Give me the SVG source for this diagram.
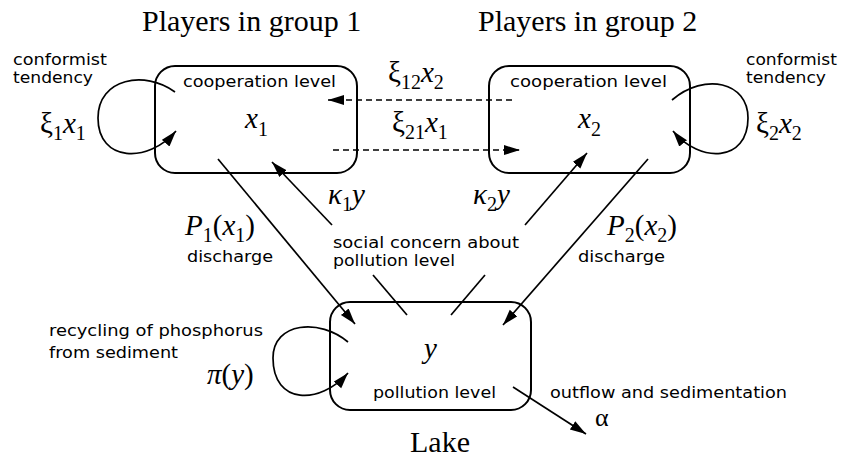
<svg xmlns="http://www.w3.org/2000/svg" width="841" height="460" viewBox="0 0 841 460">
<defs>
<marker id="ah" markerUnits="userSpaceOnUse" markerWidth="18" markerHeight="12" refX="16" refY="5" orient="auto">
<path d="M0,0 L16,5 L0,10 Z" fill="#000"/>
</marker>
<style>
.box{fill:none;stroke:#000;stroke-width:2}
.ln{fill:none;stroke:#000;stroke-width:1.7}
.arr{marker-end:url(#ah)}
.dash{stroke-dasharray:6 4}
.s{font-family:"DejaVu Sans","Liberation Sans",sans-serif;font-size:15px;fill:#000}
.t{font-family:"Liberation Serif","Times New Roman",serif;font-size:30px;fill:#000}
.m{font-family:"Liberation Serif","Times New Roman",serif;font-size:29px;fill:#000}
.i{font-style:italic}
.sb{font-size:20px;font-style:normal}
</style>
</defs>
<rect width="841" height="460" fill="#fff"/>

<g id="connectors">
<path class="ln arr" d="M175,92 C145,70 98,78 98,118 C98,162 148,164 176,131"/>
<path class="ln arr" d="M672,100 C705,72 748,82 748,118 C748,162 700,164 673,131"/>
<path class="ln arr" d="M348,342 C320,318 273,322 273,358 C273,405 320,405 348,373"/>
<path class="ln arr dash" d="M512,100 L328,100"/>
<path class="ln arr dash" d="M333,150 L520,150"/>
<path class="ln arr" d="M218,159 L355,324"/>
<path class="ln arr" d="M332,225 L272,162"/>
<path class="ln" d="M373,275 L407,315"/>
<path class="ln" d="M485,275 L451,315"/>
<path class="ln arr" d="M525,225 L587,153"/>
<path class="ln arr" d="M648,159 L503,325"/>
<path class="ln arr" d="M513,387 L586,434"/>
</g>

<g id="group1">
<rect class="box" x="155" y="66" width="202" height="107" rx="20"/>
<text class="s" x="183" y="87" textLength="153" lengthAdjust="spacingAndGlyphs">cooperation level</text>
<text class="m" x="245" y="128"><tspan class="i">x</tspan><tspan class="sb" dy="8">1</tspan></text>
</g>

<g id="group2">
<rect class="box" x="489" y="66" width="201" height="107" rx="20"/>
<text class="s" x="510" y="87" textLength="157" lengthAdjust="spacingAndGlyphs">cooperation level</text>
<text class="m" x="578" y="128"><tspan class="i">x</tspan><tspan class="sb" dy="8">2</tspan></text>
</g>

<g id="lake">
<rect class="box" x="330" y="302" width="201" height="108" rx="20"/>
<text class="m" x="424" y="358"><tspan class="i">y</tspan></text>
<text class="s" x="373" y="398" textLength="123" lengthAdjust="spacingAndGlyphs">pollution level</text>
</g>

<g id="labels">
<text class="t" x="142" y="31">Players in group 1</text>
<text class="t" x="478" y="31">Players in group 2</text>
<text class="t" x="410" y="452">Lake</text>

<text class="s" x="13" y="65" textLength="94" lengthAdjust="spacingAndGlyphs">conformist</text>
<text class="s" x="13" y="83" textLength="80" lengthAdjust="spacingAndGlyphs">tendency</text>
<text class="s" x="746" y="65" textLength="91" lengthAdjust="spacingAndGlyphs">conformist</text>
<text class="s" x="746" y="83" textLength="80" lengthAdjust="spacingAndGlyphs">tendency</text>

<text class="m" x="40" y="133">ξ<tspan class="sb" dy="7">1</tspan><tspan class="i" dy="-7">x</tspan><tspan class="sb" dy="7">1</tspan></text>
<text class="m" x="756" y="133">ξ<tspan class="sb" dy="7">2</tspan><tspan class="i" dy="-7">x</tspan><tspan class="sb" dy="7">2</tspan></text>
<text class="m" x="388" y="82">ξ<tspan class="sb" dy="7">12</tspan><tspan class="i" dy="-7">x</tspan><tspan class="sb" dy="7">2</tspan></text>
<text class="m" x="392" y="132">ξ<tspan class="sb" dy="7">21</tspan><tspan class="i" dy="-7">x</tspan><tspan class="sb" dy="7">1</tspan></text>

<text class="m" x="328" y="204"><tspan class="i">κ</tspan><tspan class="sb" dy="7">1</tspan><tspan class="i" dy="-7">y</tspan></text>
<text class="m" x="473" y="204"><tspan class="i">κ</tspan><tspan class="sb" dy="7">2</tspan><tspan class="i" dy="-7">y</tspan></text>
<text class="m" x="185" y="235"><tspan class="i">P</tspan><tspan class="sb" dy="7">1</tspan><tspan dy="-7">(</tspan><tspan class="i">x</tspan><tspan class="sb" dy="7">1</tspan><tspan dy="-7">)</tspan></text>
<text class="m" x="607" y="235"><tspan class="i">P</tspan><tspan class="sb" dy="7">2</tspan><tspan dy="-7">(</tspan><tspan class="i">x</tspan><tspan class="sb" dy="7">2</tspan><tspan dy="-7">)</tspan></text>

<text class="s" x="187" y="262" textLength="86" lengthAdjust="spacingAndGlyphs">discharge</text>
<text class="s" x="578" y="262" textLength="87" lengthAdjust="spacingAndGlyphs">discharge</text>
<text class="s" x="333" y="248" textLength="186" lengthAdjust="spacingAndGlyphs">social concern about</text>
<text class="s" x="333" y="266" textLength="122" lengthAdjust="spacingAndGlyphs">pollution level</text>

<text class="s" x="49" y="336" textLength="214" lengthAdjust="spacingAndGlyphs">recycling of phosphorus</text>
<text class="s" x="49" y="358" textLength="129" lengthAdjust="spacingAndGlyphs">from sediment</text>
<text class="m" x="207" y="384"><tspan class="i">π</tspan>(<tspan class="i">y</tspan>)</text>

<text class="s" x="550" y="398" textLength="237" lengthAdjust="spacingAndGlyphs">outflow and sedimentation</text>
<text class="m" x="595" y="426" style="font-size:26px">α</text>
</g>
</svg>
